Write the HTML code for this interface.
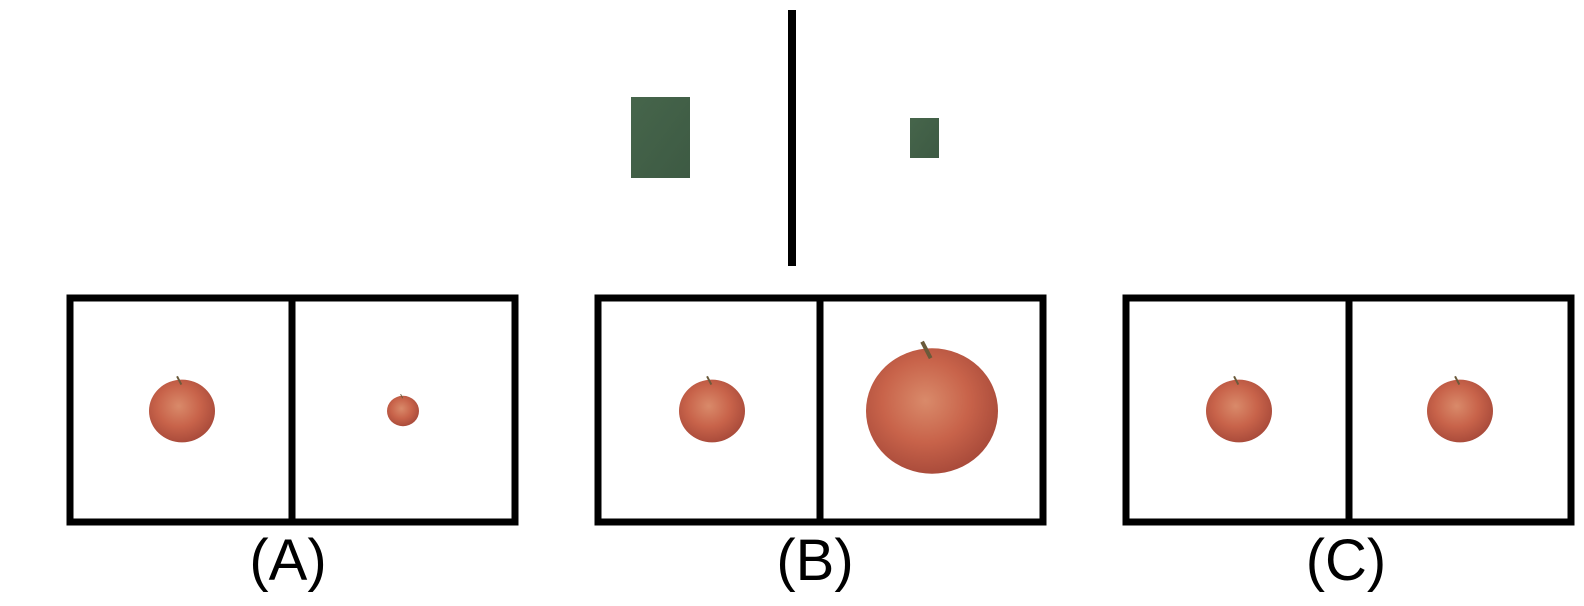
<!DOCTYPE html>
<html><head><meta charset="utf-8"><style>
html,body{margin:0;padding:0;background:#fff;width:1584px;height:606px;overflow:hidden}
svg{display:block}
</style></head><body>
<svg width="1584" height="606" viewBox="0 0 1584 606">
<defs>
<radialGradient id="ag" cx="0.45" cy="0.42" r="0.6">
<stop offset="0" stop-color="#d98a6a"/><stop offset="0.55" stop-color="#c8634a"/><stop offset="1" stop-color="#a84a3a"/>
</radialGradient>
<linearGradient id="bg" x1="0" y1="0" x2="1" y2="1"><stop offset="0" stop-color="#46654b"/><stop offset="1" stop-color="#3d5a43"/></linearGradient>
</defs>
<rect x="788" y="10" width="8" height="256" fill="#000"/>
<rect x="631" y="97" width="59" height="81" fill="url(#bg)"/>
<rect x="910" y="118" width="29" height="40" fill="url(#bg)"/>
<g id="apples"></g>
<g>
<rect x="70" y="298" width="445" height="224" fill="none" stroke="#000" stroke-width="7"/>
<line x1="292" y1="298" x2="292" y2="522" stroke="#000" stroke-width="7"/>
<text x="288" y="580" font-family="Liberation Sans, sans-serif" font-size="58" text-anchor="middle">(A)</text>
</g>
<g>
<rect x="598" y="298" width="445" height="224" fill="none" stroke="#000" stroke-width="7"/>
<line x1="820" y1="298" x2="820" y2="522" stroke="#000" stroke-width="7"/>
<text x="815" y="580" font-family="Liberation Sans, sans-serif" font-size="58" text-anchor="middle">(B)</text>
</g>
<g>
<rect x="1126" y="298" width="445" height="224" fill="none" stroke="#000" stroke-width="7"/>
<line x1="1349" y1="298" x2="1349" y2="522" stroke="#000" stroke-width="7"/>
<text x="1346" y="580" font-family="Liberation Sans, sans-serif" font-size="58" text-anchor="middle">(C)</text>
</g>
</svg>
<script>
const appleX=[182,403,712,932,1239,1460];
const appleR=[33,16,33,66,33,33];
const g=document.getElementById('apples');
const ns='http://www.w3.org/2000/svg';
appleX.forEach((x,i)=>{
  const r=appleR[i], cy=411;
  const grp=document.createElementNS(ns,'g');
  
  
  const e=document.createElementNS(ns,'ellipse');
  e.setAttribute('cx',x);e.setAttribute('cy',cy);e.setAttribute('rx',r);e.setAttribute('ry',r*0.95);
  e.setAttribute('fill','url(#ag)');
  grp.appendChild(e);
  const s=document.createElementNS(ns,'line');
  s.setAttribute('x1',x-r*0.02);s.setAttribute('y1',cy-r*0.8);s.setAttribute('x2',x-r*0.15);s.setAttribute('y2',cy-r*1.05);
  s.setAttribute('stroke','#6b5a3a');s.setAttribute('stroke-width',Math.max(1,r*0.06));
  grp.appendChild(s);
  g.appendChild(grp);
});
</script>
</body></html>
